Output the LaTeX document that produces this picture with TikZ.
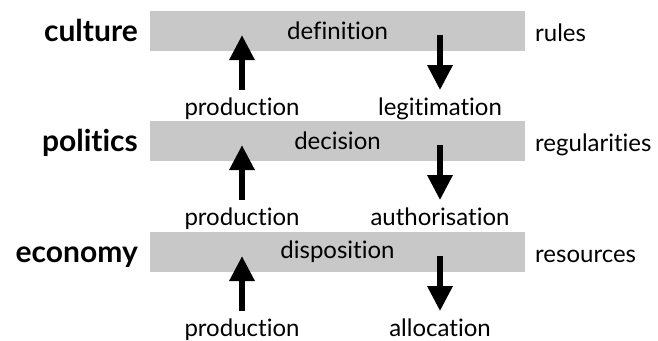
\documentclass[tikz,border=0pt]{standalone}
\usepackage{fontspec}
\setmainfont{Lato}[Ligatures=NoCommon]
\usetikzlibrary{arrows.meta}
\definecolor{bargrey}{HTML}{C8C8C8}
\tikzset{
  layer/.style={fill=bargrey, minimum width=375pt, minimum height=40pt, inner sep=0pt,
    font=\fontsize{24}{28}\selectfont},
  sphere/.style={anchor=base east, inner sep=0pt, font=\fontsize{30}{34}\selectfont\bfseries},
  kind/.style={anchor=base west, inner sep=0pt, font=\fontsize{24}{28}\selectfont},
  flow/.style={anchor=base, inner sep=0pt, font=\fontsize{24}{28}\selectfont},
  thick arrow/.style={line width=6pt, -{Triangle[width=24pt,length=25pt]}}
}
\begin{document}
\begin{tikzpicture}[x=1pt,y=-1pt]
  \useasboundingbox (0,0) rectangle (658,340);
  % the three layers
  \node[layer] (definition) at (337.5,31) {definition};
  \node[layer] (decision) at (337.5,141) {decision};
  \node[layer] (disposition) at (337.5,252) {disposition};
  % spheres on the left
  \node[sphere] (culture) at (138,41) {culture};
  \node[sphere] (politics) at (138,151) {politics};
  \node[sphere] (economy) at (138,262) {economy};
  % kinds on the right
  \node[kind] (rules) at (535,41) {rules};
  \node[kind] (regularities) at (535,151) {regularities};
  \node[kind] (resources) at (535,262) {resources};
  % flows below each layer
  \node[flow] (prodC) at (242,115) {production};
  \node[flow] (legit) at (440,115) {legitimation};
  \node[flow] (prodP) at (242,225) {production};
  \node[flow] (auth) at (440,225) {authorisation};
  \node[flow] (prodE) at (242,336) {production};
  \node[flow] (alloc) at (440,336) {allocation};
  \begin{scope}[thick arrow]
    \draw ([yshift=7pt]prodC.north) -- ([yshift=-4pt]definition.center -| prodC.north);
    \draw ([yshift=-4pt]definition.center -| legit.north) -- ([yshift=7pt]legit.north);
    \draw ([yshift=7pt]prodP.north) -- ([yshift=-4pt]decision.center -| prodP.north);
    \draw ([yshift=-4pt]decision.center -| auth.north) -- ([yshift=7pt]auth.north);
    \draw ([yshift=7pt]prodE.north) -- ([yshift=-4pt]disposition.center -| prodE.north);
    \draw ([yshift=-4pt]disposition.center -| alloc.north) -- ([yshift=7pt]alloc.north);
  \end{scope}
\end{tikzpicture}
\end{document}
